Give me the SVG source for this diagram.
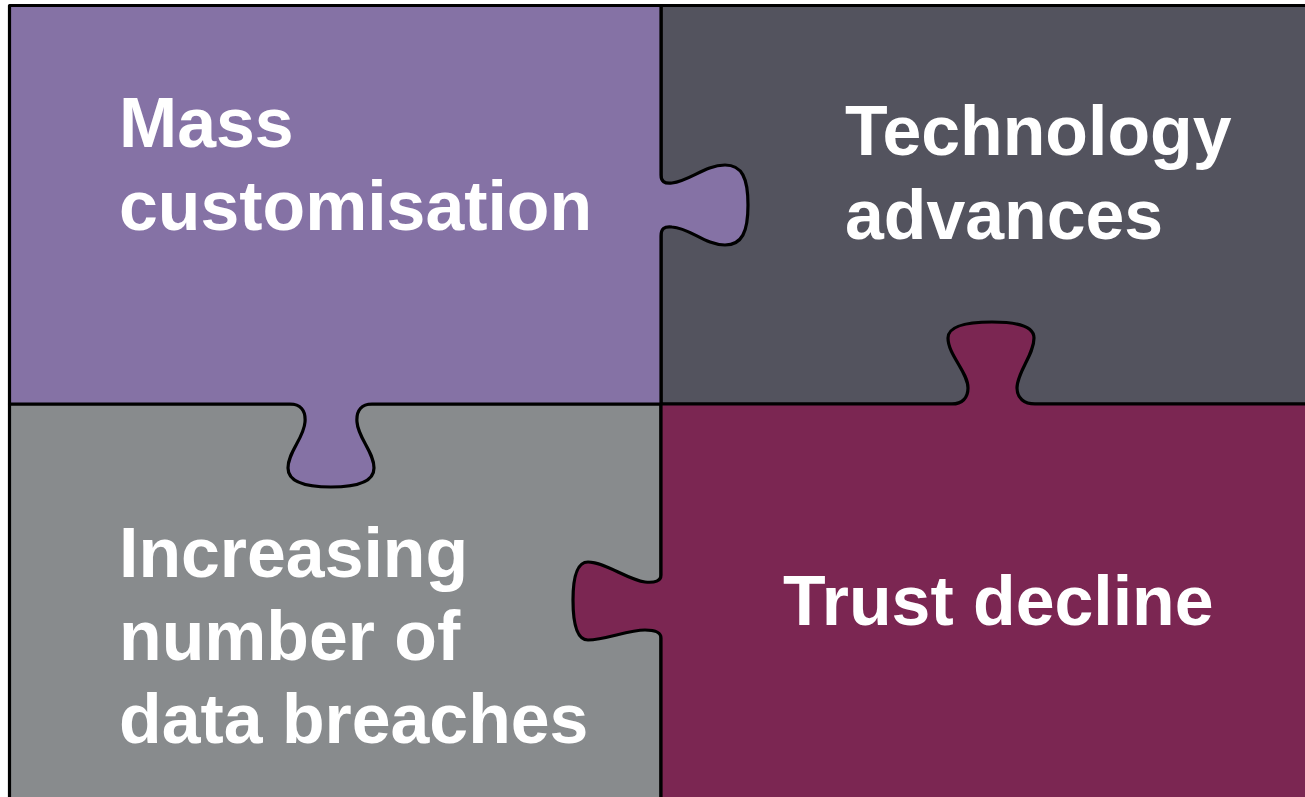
<svg xmlns="http://www.w3.org/2000/svg" width="1305" height="797" viewBox="0 0 1305 797">
<style>
.p{stroke:#000;stroke-width:3.2;stroke-linejoin:round}
.t{font-family:"Liberation Sans",Arial,sans-serif;font-weight:bold;font-size:69.8px;fill:#fff}
</style>
<rect width="1305" height="797" fill="#fff"/>
<g id="node-technology">
<rect class="p" x="661" y="5.5" width="660" height="398.5" fill="#53535E"/>
<text class="t" x="845" y="155">Technology</text>
<text class="t" x="845" y="239">advances</text>
</g>
<g id="node-breaches">
<rect class="p" x="9.5" y="404" width="651.5" height="410" fill="#888B8D"/>
<text class="t" x="119" y="577">Increasing</text>
<text class="t" x="119" y="660">number of</text>
<text class="t" x="119" y="743">data breaches</text>
</g>
<g id="node-mass">
<path class="p" fill="#8572A5" d="M9.5,5.5 H661 V175 C661,181 664,184 672,183 C690,181 705,165 725,165 C742,165 748,178 748,205 C748,232 742,245 725,245 C705,245 690,228 672,227 C664,226 661,229 661,236 V404 H372 C362,404 356,410 357,422 C358,438 374,452 374,468 C374,482 355,487 331,487 C307,487 288,482 288,468 C288,452 304,438 305,422 C306,410 300,404 290,404 H9.5 Z"/>
<text class="t" x="119" y="147">Mass</text>
<text class="t" x="119" y="230">customisation</text>
</g>
<g id="node-trust">
<path class="p" fill="#7B2652" d="M661,404 H952 C962,404 968,398 968,388 C968,372 948,355 948,338 C948,325 970,322 992,322 C1014,322 1034,325 1034,338 C1034,355 1017,372 1017,388 C1017,398 1024,404 1035,404 H1320 V820 H661 V638 C661,632 655,630 645,630 C628,630 605,640 588,640 C576,640 573,620 573,600 C573,580 576,562 588,562 C605,562 628,580 645,582 C655,583 661,581 661,575 Z"/>
<text class="t" x="783" y="625">Trust decline</text>
</g>
<g id="connectors"></g>
</svg>
